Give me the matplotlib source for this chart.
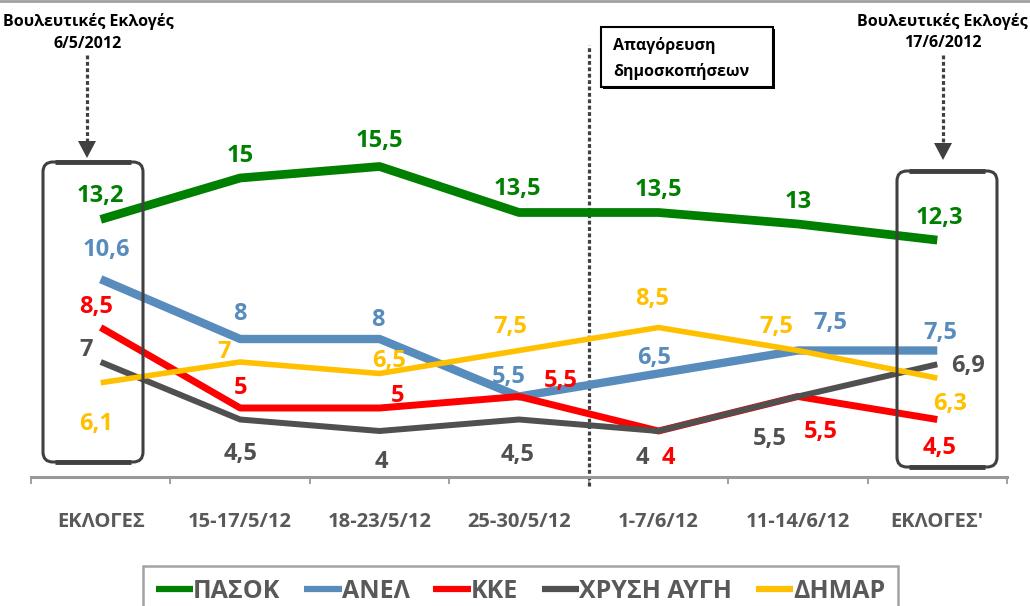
import matplotlib
matplotlib.use("Agg")
import matplotlib.pyplot as plt
from matplotlib import font_manager
from matplotlib.patches import FancyBboxPatch, Rectangle, Polygon
from matplotlib.lines import Line2D
from matplotlib.transforms import IdentityTransform

W, H = 1030, 606

# data
categories = ["ΕΚΛΟΓΕΣ", "15-17/5/12", "18-23/5/12", "25-30/5/12",
              "1-7/6/12", "11-14/6/12", "ΕΚΛΟΓΕΣ'"]
party_names = ["ΠΑΣΟΚ", "ΑΝΕΛ", "ΚΚΕ", "ΧΡΥΣΗ ΑΥΓΗ", "ΔΗΜΑΡ"]
pasok = [13.2, 15, 15.5, 13.5, 13.5, 13, 12.3]
anel = [10.6, 8, 8, 5.5, 6.5, 7.5, 7.5]
kke = [8.5, 5, 5, 5.5, 4, 5.5, 4.5]
xa = [7, 4.5, 4, 4.5, 4, 5.5, 6.9]
dimar = [6.1, 7, 6.5, 7.5, 8.5, 7.5, 6.3]

# styling
colors = ["#008000", "#578CBD", "#FF0000", "#505050", "#FFC000"]
widths = [6.3, 6.0, 5.0, 4.3, 4.0]

# label offsets from the point, in pixels (dx right, dy down)
pasok_off = [(0, -26), (0, -24.5), (0, -27.5), (-2, -26.5), (0, -25), (0, -25), (2.5, -25)]
anel_off = [(5.5, -32), (0, -27.5), (-1.5, -22), (-10, -21.5), (-4.5, -18), (32.5, -30), (3, -20)]
kke_off = [(-4.5, -23), (0, -23), (18, -14), (41.5, -17.5), (10, 24), (22.5, 33), (2.5, 26)]
xa_off = [(-14.5, -15), (0.5, 32), (1.5, 29), (-1, 32.5), (-16, 24), (-28, 39.5), (30.5, -1)]
dimar_off = [(-5, 39), (-16, -13), (9.5, -14.5), (-9, -26.5), (-6.5, -31), (-22, -26.5), (12.5, 23.5)]


def pick_font(names):
    avail = {f.name for f in font_manager.fontManager.ttflist}
    for n in names:
        if n in avail:
            return n
    return "DejaVu Sans"


FONT = pick_font(["Open Sans", "Noto Sans", "DejaVu Sans"])
plt.rcParams["font.family"] = [FONT, "DejaVu Sans"]

fig = plt.figure(figsize=(W / 100, H / 100), dpi=100)
ax_bottom, ax_top = 477, 30
ax = fig.add_axes([31 / W, 1 - ax_bottom / H, 976 / W, (ax_bottom - ax_top) / H])
ax.set_xlim(-0.5, 6.5)
ax.set_ylim(2, 2 + (ax_bottom - ax_top) / 23.0)

x = list(range(len(categories)))
series = [pasok, anel, kke, xa, dimar]
offsets = [pasok_off, anel_off, kke_off, xa_off, dimar_off]

for vals, c, lw, name in zip(series, colors, widths, party_names):
    ax.plot(x, vals, color=c, lw=lw, solid_capstyle="butt",
            solid_joinstyle="round", label=name, clip_on=False, zorder=3)

for vals, c, offs in zip(series, colors, offsets):
    for i, v in enumerate(vals):
        txt = f"{v:g}".replace(".", ",")
        dx, dy = offs[i]
        ax.annotate(txt, xy=(i, v), xytext=(dx, -(dy + 8.5)),
                    textcoords="offset pixels", ha="center", va="baseline",
                    fontsize=17, fontweight="bold", color=c, zorder=5,
                    annotation_clip=False)

# axes
for s in ["left", "right", "top"]:
    ax.spines[s].set_visible(False)
ax.spines["bottom"].set_color("#999999")
ax.spines["bottom"].set_linewidth(2.2)
ax.set_yticks([])
ax.set_xticks(x)
ax.set_xticklabels(categories, fontsize=14.5, fontweight="bold", color="#595959")
ax.tick_params(axis="x", which="major", length=0, pad=25)
ax.set_xticks([i - 0.5 for i in range(len(categories) + 1)], minor=True)
ax.tick_params(axis="x", which="minor", length=5, width=1.3, color="#999999", direction="out")

# poll ban line
ax.axvline(3.5, ymin=(ax_bottom - 486) / (ax_bottom - ax_top),
           ymax=(ax_bottom - 45) / (ax_bottom - ax_top),
           color="#404040", lw=2.3, linestyle=(0, (1.2, 0.8)), clip_on=False, zorder=2)

ident = IdentityTransform()


def P(px, py):
    return (px, H - py)


# election boxes
for x0, x1, y0, y1 in [(43, 143, 162, 462), (897, 997, 171, 467)]:
    box = FancyBboxPatch(P(x0, y1), x1 - x0, y1 - y0,
                         boxstyle="round,pad=0,rounding_size=10",
                         transform=ident, fill=False, ec="#404040", lw=2.2, zorder=6)
    fig.add_artist(box)
    for yy in (y0, y1):
        fig.add_artist(Line2D([x0 + 12, x1 - 12], [H - yy, H - yy], transform=ident,
                              color="#404040", lw=3.5, solid_capstyle="butt"))

# arrows from titles to boxes
for ax_x, y_end in [(87, 158), (943, 160)]:
    fig.add_artist(Line2D([ax_x, ax_x], [H - 55, H - (y_end - 15)], transform=ident,
                          color="#404040", lw=2.3, linestyle=(0, (1.2, 0.8))))
    fig.add_artist(Polygon([P(ax_x - 9, y_end - 17), P(ax_x + 9, y_end - 17), P(ax_x, y_end)],
                           closed=True, transform=ident, fc="#404040", ec="none"))

fig.text(88 / W, 1 - 22 / H, "Βουλευτικές Εκλογές", ha="center", va="center",
         fontsize=11.5, fontweight="bold", color="black")
fig.text(88 / W, 1 - 44 / H, "6/5/2012", ha="center", va="center",
         fontsize=11.5, fontweight="bold", color="black")
fig.text(942 / W, 1 - 22 / H, "Βουλευτικές Εκλογές", ha="center", va="center",
         fontsize=11.5, fontweight="bold", color="black")
fig.text(943 / W, 1 - 43 / H, "17/6/2012", ha="center", va="center",
         fontsize=11.5, fontweight="bold", color="black")

# poll ban box
fig.add_artist(Rectangle(P(603, 89), 172, 60, transform=ident, fc="black", ec="none"))
fig.add_artist(Rectangle(P(601, 87), 172, 60, transform=ident, fc="white", ec="black", lw=1.5))
fig.text(613 / W, 1 - 45 / H, "Απαγόρευση", ha="left", va="center",
         fontsize=11.5, fontweight="bold", color="black")
fig.text(613 / W, 1 - 72 / H, "δημοσκοπήσεων", ha="left", va="center",
         fontsize=11.5, fontweight="bold", color="black")

# top border of chart area
fig.add_artist(Line2D([0, W], [H - 1, H - 1], transform=ident, color="#A0A0A0", lw=2))

# legend
handles = [Line2D([], [], color=c, lw=4.5, solid_capstyle="butt") for c in colors]
leg = fig.legend(handles, party_names, ncol=5, loc="upper left",
                 bbox_to_anchor=(143 / W, 1 - 566 / H), bbox_transform=fig.transFigure,
                 frameon=True, fancybox=False, edgecolor="#8C8C8C",
                 handlelength=1.5, handletextpad=0.0, columnspacing=0.95,
                 borderpad=0.5, borderaxespad=0,
                 prop={"family": FONT, "weight": "bold", "size": 18},
                 labelcolor="#595959")
leg.get_frame().set_linewidth(1.8)

fig.savefig("out.png", dpi=100)
